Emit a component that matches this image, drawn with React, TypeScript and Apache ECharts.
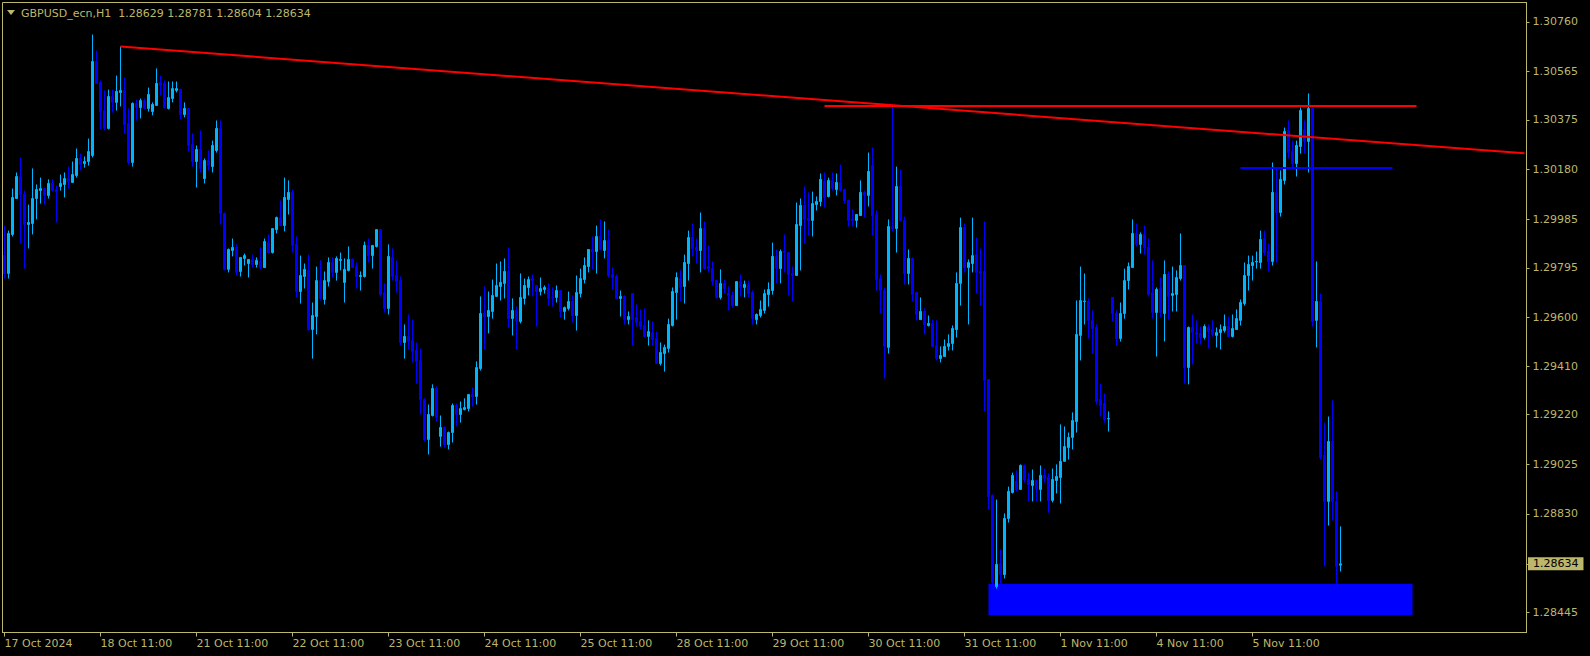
import React, { useEffect, useRef } from "react";
import * as echarts from "echarts";

// ---------- data ----------
const symbolTitle = "GBPUSD_ecn,H1  1.28629 1.28781 1.28604 1.28634";
const tickLabels = [
  "17 Oct 2024", "18 Oct 11:00", "21 Oct 11:00", "22 Oct 11:00", "23 Oct 11:00",
  "24 Oct 11:00", "25 Oct 11:00", "28 Oct 11:00", "29 Oct 11:00", "30 Oct 11:00",
  "31 Oct 11:00", "1 Nov 11:00", "4 Nov 11:00", "5 Nov 11:00",
];
const yTickValues = [
  1.3076, 1.30565, 1.30375, 1.3018, 1.29985, 1.29795, 1.296, 1.2941, 1.2922,
  1.29025, 1.2883, 1.28445,
];
const currentPrice = 1.28634;

const opens = [
  1.29843,1.29773,1.29926,1.30067,1.30153,1.30083,1.29965,1.29969,1.30067,1.30098,
  1.30106,1.30079,1.30126,1.30102,1.30114,1.30122,1.30145,1.30130,1.30157,1.30224,
  1.30204,1.30212,1.30236,1.30604,1.30522,1.30412,1.30342,1.30467,1.30444,1.30483,
  1.30491,1.30361,1.30208,1.30440,1.30424,1.30451,1.30420,1.30408,1.30432,1.30522,
  1.30518,1.30420,1.30459,1.30491,1.30494,1.30396,1.30420,1.30279,1.30212,1.30259,
  1.30145,1.30216,1.30192,1.30255,1.30342,1.30008,1.29789,1.29863,1.29875,1.29781,
  1.29832,1.29812,1.29828,1.29808,1.29820,1.29796,1.29894,1.29855,1.29945,1.29992,
  1.29961,1.30063,1.30091,1.29887,1.29702,1.29761,1.29785,1.29553,1.29604,1.29745,
  1.29671,1.29741,1.29816,1.29777,1.29824,1.29738,1.29785,1.29828,1.29800,1.29761,
  1.29761,1.29883,1.29843,1.29879,1.29945,1.29698,1.29636,1.29836,1.29765,1.29745,
  1.29502,1.29526,1.29510,1.29471,1.29432,1.29279,1.29122,1.29216,1.29322,1.29134,
  1.29169,1.29102,1.29149,1.29255,1.29220,1.29239,1.29243,1.29298,1.29290,1.29400,
  1.29616,1.29604,1.29624,1.29683,1.29722,1.29734,1.29781,1.29596,1.29628,1.29585,
  1.29675,1.29718,1.29753,1.29726,1.29702,1.29710,1.29714,1.29679,1.29679,1.29706,
  1.29624,1.29636,1.29663,1.29608,1.29694,1.29749,1.29800,1.29867,1.29859,1.29918,
  1.29863,1.29902,1.29769,1.29761,1.29675,1.29683,1.29592,1.29694,1.29600,1.29585,
  1.29569,1.29526,1.29541,1.29518,1.29420,1.29459,1.29479,1.29569,1.29698,1.29753,
  1.29722,1.29812,1.29914,1.29875,1.29863,1.29949,1.29800,1.29792,1.29745,1.29679,
  1.29734,1.29694,1.29687,1.29647,1.29741,1.29718,1.29730,1.29698,1.29592,1.29608,
  1.29628,1.29690,1.29706,1.29840,1.29792,1.29859,1.29855,1.29773,1.29765,1.29961,
  1.30040,1.29989,1.29981,1.30043,1.30055,1.30134,1.30075,1.30138,1.30102,1.30130,
  1.30102,1.30059,1.29985,1.29981,1.30000,1.30091,1.30079,1.30196,1.30004,1.29753,
  1.29706,1.29483,1.29957,1.29949,1.30114,1.29981,1.29773,1.29832,1.29698,1.29592,
  1.29624,1.29569,1.29577,1.29490,1.29439,1.29447,1.29487,1.29498,1.29553,1.29734,
  1.29953,1.29796,1.29812,1.29847,1.29781,1.29781,1.29357,1.28902,1.28545,1.28635,
  1.28592,1.28812,1.28914,1.28957,1.28926,1.29020,1.28965,1.28941,1.28961,1.28926,
  1.28981,1.28973,1.28883,1.28961,1.28973,1.29036,1.29090,1.29130,1.29192,1.29530,
  1.29663,1.29663,1.29589,1.29561,1.29279,1.29263,1.29202,1.29679,1.29616,1.29518,
  1.29616,1.29745,1.29796,1.29930,1.29887,1.29926,1.29875,1.29698,1.29620,1.29714,
  1.29616,1.29769,1.29687,1.29690,1.29753,1.29804,1.29404,1.29561,1.29541,1.29538,
  1.29522,1.29561,1.29553,1.29530,1.29541,1.29549,1.29565,1.29526,1.29553,1.29589,
  1.29655,1.29765,1.29804,1.29818,1.29816,1.29910,1.29859,1.29820,1.30091,1.30012,
  1.30138,1.30334,1.30251,1.30204,1.30271,1.30338,1.30291,1.30420,1.29589,1.29663,
  1.29059,1.28879,1.29114,1.28879,1.28629,
];
const closes = [
  1.29773,1.29930,1.30071,1.30153,1.30083,1.29965,1.29973,1.30067,1.30102,1.30106,
  1.30079,1.30126,1.30098,1.30094,1.30126,1.30145,1.30134,1.30161,1.30224,1.30200,
  1.30212,1.30251,1.30604,1.30518,1.30408,1.30342,1.30467,1.30444,1.30487,1.30491,
  1.30357,1.30208,1.30440,1.30424,1.30451,1.30420,1.30475,1.30436,1.30518,1.30510,
  1.30424,1.30463,1.30498,1.30498,1.30396,1.30420,1.30275,1.30212,1.30259,1.30185,
  1.30216,1.30196,1.30275,1.30342,1.30008,1.29789,1.29867,1.29875,1.29777,1.29836,
  1.29843,1.29828,1.29808,1.29824,1.29796,1.29898,1.29855,1.29949,1.29992,1.29961,
  1.30071,1.30091,1.29883,1.29702,1.29765,1.29789,1.29553,1.29608,1.29745,1.29675,
  1.29745,1.29816,1.29777,1.29832,1.29828,1.29789,1.29828,1.29796,1.29761,1.29765,
  1.29883,1.29843,1.29883,1.29945,1.29690,1.29636,1.29840,1.29761,1.29741,1.29502,
  1.29526,1.29506,1.29467,1.29428,1.29279,1.29122,1.29220,1.29322,1.29208,1.29169,
  1.29102,1.29149,1.29255,1.29220,1.29243,1.29247,1.29298,1.29290,1.29404,1.29616,
  1.29604,1.29628,1.29687,1.29726,1.29738,1.29781,1.29596,1.29628,1.29585,1.29679,
  1.29726,1.29749,1.29745,1.29702,1.29714,1.29718,1.29675,1.29677,1.29706,1.29624,
  1.29639,1.29663,1.29608,1.29698,1.29753,1.29804,1.29867,1.29859,1.29918,1.29867,
  1.29902,1.29765,1.29757,1.29675,1.29683,1.29592,1.29604,1.29592,1.29581,1.29565,
  1.29526,1.29545,1.29514,1.29420,1.29463,1.29483,1.29573,1.29702,1.29757,1.29718,
  1.29816,1.29914,1.29871,1.29863,1.29949,1.29792,1.29792,1.29741,1.29679,1.29734,
  1.29714,1.29687,1.29647,1.29741,1.29718,1.29730,1.29694,1.29596,1.29612,1.29632,
  1.29694,1.29710,1.29840,1.29792,1.29859,1.29855,1.29769,1.29765,1.29965,1.30040,
  1.29985,1.29981,1.30047,1.30055,1.30142,1.30071,1.30138,1.30106,1.30130,1.30098,
  1.30059,1.29981,1.29981,1.30004,1.30091,1.30079,1.30173,1.30000,1.29749,1.29706,
  1.29487,1.29957,1.29949,1.30114,1.29981,1.29773,1.29832,1.29690,1.29612,1.29624,
  1.29573,1.29577,1.29487,1.29439,1.29451,1.29487,1.29498,1.29557,1.29734,1.29953,
  1.29796,1.29816,1.29843,1.29777,1.29773,1.29353,1.28898,1.28561,1.28632,1.28592,
  1.28812,1.28918,1.28981,1.28926,1.29020,1.28965,1.28945,1.28961,1.28926,1.28981,
  1.28969,1.28883,1.28965,1.28977,1.29036,1.29094,1.29130,1.29196,1.29534,1.29667,
  1.29665,1.29589,1.29557,1.29271,1.29255,1.29200,1.29204,1.29616,1.29518,1.29616,
  1.29745,1.29800,1.29930,1.29887,1.29926,1.29875,1.29690,1.29620,1.29710,1.29620,
  1.29769,1.29683,1.29694,1.29757,1.29804,1.29404,1.29561,1.29541,1.29534,1.29522,
  1.29565,1.29545,1.29534,1.29541,1.29553,1.29565,1.29526,1.29557,1.29596,1.29659,
  1.29765,1.29808,1.29816,1.29820,1.29906,1.29855,1.29820,1.30091,1.30012,1.30142,
  1.30330,1.30247,1.30204,1.30275,1.30412,1.30291,1.30420,1.29585,1.29663,1.29051,
  1.28879,1.29114,1.28879,1.28624,1.28634,
];
const lows = [
  1.29753,1.29753,1.29918,1.30067,1.29891,1.29792,1.29871,1.29926,1.29985,1.30047,
  1.30043,1.30067,1.30094,1.29973,1.30098,1.30071,1.30106,1.30130,1.30149,1.30177,
  1.30188,1.30196,1.30228,1.30518,1.30338,1.30334,1.30338,1.30404,1.30412,1.30428,
  1.30322,1.30200,1.30192,1.30373,1.30381,1.30420,1.30408,1.30393,1.30432,1.30471,
  1.30420,1.30416,1.30444,1.30483,1.30377,1.30385,1.30251,1.30192,1.30110,1.30169,
  1.30126,1.30177,1.30169,1.30247,1.29965,1.29785,1.29777,1.29840,1.29765,1.29761,
  1.29804,1.29757,1.29796,1.29796,1.29789,1.29796,1.29851,1.29851,1.29930,1.29961,
  1.29938,1.30004,1.29855,1.29679,1.29655,1.29714,1.29549,1.29439,1.29534,1.29667,
  1.29651,1.29722,1.29757,1.29745,1.29785,1.29659,1.29781,1.29796,1.29714,1.29706,
  1.29757,1.29816,1.29792,1.29875,1.29683,1.29620,1.29612,1.29745,1.29698,1.29490,
  1.29439,1.29475,1.29424,1.29341,1.29220,1.29114,1.29063,1.29212,1.29192,1.29094,
  1.29090,1.29083,1.29110,1.29173,1.29188,1.29236,1.29232,1.29251,1.29259,1.29392,
  1.29475,1.29538,1.29596,1.29683,1.29667,1.29675,1.29561,1.29530,1.29475,1.29577,
  1.29651,1.29687,1.29683,1.29565,1.29687,1.29694,1.29647,1.29643,1.29659,1.29600,
  1.29592,1.29628,1.29581,1.29549,1.29679,1.29734,1.29777,1.29789,1.29773,1.29863,
  1.29832,1.29757,1.29710,1.29675,1.29604,1.29573,1.29573,1.29490,1.29565,1.29553,
  1.29522,1.29490,1.29490,1.29420,1.29412,1.29388,1.29463,1.29565,1.29592,1.29663,
  1.29655,1.29745,1.29840,1.29812,1.29777,1.29789,1.29777,1.29726,1.29675,1.29671,
  1.29694,1.29628,1.29639,1.29647,1.29683,1.29679,1.29679,1.29573,1.29573,1.29600,
  1.29616,1.29643,1.29690,1.29734,1.29734,1.29777,1.29687,1.29663,1.29765,1.29785,
  1.29891,1.29922,1.29918,1.30020,1.30036,1.30032,1.30071,1.30098,1.30079,1.30094,
  1.30047,1.29957,1.29957,1.29953,1.30000,1.29992,1.30036,1.29922,1.29706,1.29616,
  1.29361,1.29459,1.29938,1.29855,1.29977,1.29730,1.29730,1.29663,1.29589,1.29592,
  1.29534,1.29565,1.29487,1.29432,1.29424,1.29447,1.29471,1.29471,1.29522,1.29647,
  1.29777,1.29573,1.29777,1.29694,1.29647,1.29232,1.28847,1.28545,1.28537,1.28557,
  1.28577,1.28796,1.28910,1.28918,1.28926,1.28953,1.28879,1.28879,1.28879,1.28879,
  1.28953,1.28835,1.28875,1.28910,1.28871,1.29036,1.29043,1.29083,1.29149,1.29432,
  1.29573,1.29518,1.29459,1.29259,1.29212,1.29188,1.29153,1.29585,1.29490,1.29506,
  1.29596,1.29710,1.29796,1.29879,1.29851,1.29847,1.29683,1.29596,1.29447,1.29600,
  1.29506,1.29592,1.29624,1.29624,1.29745,1.29341,1.29338,1.29416,1.29498,1.29494,
  1.29514,1.29479,1.29526,1.29483,1.29475,1.29541,1.29526,1.29522,1.29553,1.29569,
  1.29647,1.29706,1.29745,1.29792,1.29792,1.29843,1.29781,1.29804,1.29816,1.29996,
  1.30122,1.30224,1.30189,1.30153,1.30243,1.30243,1.30169,1.29565,1.29483,1.29043,
  1.28624,1.28784,1.28804,1.28557,1.28604,
];
const highs = [
  1.29961,1.29941,1.30106,1.30169,1.30228,1.30098,1.30043,1.30185,1.30122,1.30149,
  1.30110,1.30142,1.30142,1.30118,1.30161,1.30169,1.30192,1.30212,1.30263,1.30243,
  1.30232,1.30302,1.30710,1.30647,1.30530,1.30491,1.30494,1.30494,1.30549,1.30663,
  1.30542,1.30420,1.30444,1.30455,1.30459,1.30459,1.30502,1.30444,1.30577,1.30549,
  1.30530,1.30526,1.30526,1.30526,1.30498,1.30444,1.30420,1.30322,1.30275,1.30334,
  1.30224,1.30255,1.30294,1.30373,1.30373,1.30012,1.29871,1.29910,1.29887,1.29836,
  1.29851,1.29828,1.29847,1.29836,1.29875,1.29910,1.29926,1.29949,1.29996,1.30059,
  1.30149,1.30138,1.30102,1.29918,1.29843,1.29812,1.29847,1.29659,1.29800,1.29824,
  1.29781,1.29836,1.29836,1.29840,1.29855,1.29832,1.29879,1.29832,1.29816,1.29781,
  1.29898,1.29910,1.29883,1.29945,1.29945,1.29734,1.29887,1.29871,1.29824,1.29761,
  1.29573,1.29612,1.29592,1.29502,1.29479,1.29283,1.29259,1.29338,1.29330,1.29216,
  1.29173,1.29153,1.29263,1.29263,1.29271,1.29283,1.29298,1.29326,1.29428,1.29683,
  1.29722,1.29702,1.29749,1.29812,1.29820,1.29832,1.29875,1.29675,1.29643,1.29773,
  1.29753,1.29761,1.29769,1.29726,1.29757,1.29726,1.29734,1.29718,1.29726,1.29706,
  1.29643,1.29702,1.29687,1.29765,1.29792,1.29836,1.29867,1.29918,1.29961,1.29985,
  1.29977,1.29945,1.29796,1.29769,1.29706,1.29687,1.29624,1.29694,1.29651,1.29632,
  1.29636,1.29589,1.29585,1.29545,1.29502,1.29494,1.29596,1.29718,1.29777,1.29785,
  1.29847,1.29941,1.29969,1.29910,1.30012,1.29977,1.29883,1.29820,1.29749,1.29789,
  1.29749,1.29722,1.29702,1.29741,1.29769,1.29745,1.29745,1.29706,1.29616,1.29667,
  1.29710,1.29738,1.29894,1.29867,1.29867,1.29926,1.29855,1.29800,1.30051,1.30067,
  1.30114,1.30091,1.30094,1.30075,1.30165,1.30169,1.30149,1.30169,1.30165,1.30200,
  1.30106,1.30063,1.30024,1.30004,1.30138,1.30098,1.30247,1.30267,1.30020,1.29769,
  1.29718,1.29985,1.30428,1.30192,1.30181,1.29996,1.29867,1.29836,1.29702,1.29679,
  1.29636,1.29608,1.29592,1.29589,1.29487,1.29514,1.29534,1.29569,1.29777,1.29992,
  1.29969,1.29828,1.29992,1.29914,1.29871,1.29977,1.29357,1.28906,1.28886,1.28690,
  1.28832,1.28937,1.28992,1.29000,1.29024,1.29024,1.28992,1.29004,1.28961,1.29020,
  1.29008,1.28988,1.29008,1.29024,1.29181,1.29173,1.29149,1.29228,1.29667,1.29800,
  1.29773,1.29675,1.29628,1.29573,1.29341,1.29302,1.29232,1.29679,1.29628,1.29659,
  1.29792,1.29816,1.29985,1.29969,1.29934,1.29961,1.29910,1.29824,1.29718,1.29757,
  1.29824,1.29781,1.29800,1.29785,1.29930,1.29804,1.29565,1.29612,1.29589,1.29565,
  1.29573,1.29573,1.29589,1.29561,1.29573,1.29612,1.29604,1.29612,1.29632,1.29671,
  1.29816,1.29843,1.29843,1.29859,1.29941,1.29941,1.29891,1.30208,1.30185,1.30177,
  1.30345,1.30373,1.30294,1.30294,1.30424,1.30373,1.30479,1.30424,1.29820,1.29694,
  1.29188,1.29212,1.29275,1.28918,1.28781,
];

// drawn objects (bar index, price)
const trendStart = { bar: 29, price: 1.30663 };
const trendEnd = { bar: 380, price: 1.30244 };
const resistance = { from: 205, to: 353, price: 1.30432 };
const blueLevel = { from: 309, to: 347, price: 1.30186 };
const zone = { from: 246, to: 352, top: 1.28556, bottom: 1.28433 };

const BAR_COUNT = 381; // including empty shift area on the right
const MONTHS = ["Jan","Feb","Mar","Apr","May","Jun","Jul","Aug","Sep","Oct","Nov","Dec"];
function buildCategories(n: number): string[] {
  const out: string[] = [];
  let t = Date.UTC(2024, 9, 17, 11);
  while (out.length < n) {
    const d = new Date(t);
    const wd = d.getUTCDay();
    if (wd !== 0 && wd !== 6) {
      const hh = String(d.getUTCHours()).padStart(2, "0");
      out.push(`${d.getUTCDate()} ${MONTHS[d.getUTCMonth()]} ${hh}:00`);
    }
    t += 3600 * 1000;
  }
  return out;
}
const categories = buildCategories(BAR_COUNT);

const KHAKI = "#BDB76B";
const BULL = "#00B4FF";
const BEAR = "#0000FF";
const FONT = "DejaVu Sans";
const Y_MIN = 1.283648;
const Y_MAX = 1.308357;

export default function App() {
  const ref = useRef<HTMLDivElement>(null);
  useEffect(() => {
    if (!ref.current) return;
    const chart = echarts.init(ref.current, undefined, { renderer: "svg" });
    const data = opens.map((o, i) => [o, closes[i], lows[i], highs[i]]);
    const isTick = (index: number) => index % 24 === 0 && index / 24 < tickLabels.length;
    chart.setOption({
      animation: false,
      backgroundColor: "#000000",
      textStyle: { fontFamily: FONT },
      grid: {
        left: 2.5, top: 2.5, width: 1524, height: 630,
        show: true, borderColor: KHAKI, borderWidth: 1, backgroundColor: "#000000",
      },
      graphic: [
        { type: "polygon", shape: { points: [[7, 10], [15, 10], [11, 15]] }, style: { fill: KHAKI } },
        {
          type: "text", x: 21, y: 13,
          style: { text: symbolTitle, fill: KHAKI, fontSize: 11, fontFamily: FONT, verticalAlign: "middle" },
        },
      ],
      xAxis: {
        type: "category",
        data: categories,
        boundaryGap: true,
        axisLine: { show: true, lineStyle: { color: KHAKI } },
        axisTick: { show: true, alignWithLabel: true, length: 4, interval: isTick, lineStyle: { color: KHAKI } },
        axisLabel: {
          interval: isTick,
          formatter: (_v: string, i: number) => tickLabels[i / 24] ?? "",
          color: KHAKI, fontSize: 11, fontFamily: FONT, align: "left", margin: 5,
        },
        splitLine: { show: false },
      },
      yAxis: [
        {
          type: "value",
          position: "right",
          min: Y_MIN,
          max: Y_MAX,
          scale: true,
          axisLine: { show: true, lineStyle: { color: KHAKI } },
          axisTick: { show: true, length: 3, customValues: [...yTickValues, currentPrice], lineStyle: { color: KHAKI } },
          axisLabel: {
            customValues: yTickValues,
            formatter: (v: number) => v.toFixed(5),
            color: KHAKI, fontSize: 11, fontFamily: FONT, margin: 6,
          },
          splitLine: { show: false },
        },
        {
          type: "value",
          position: "right",
          min: Y_MIN,
          max: Y_MAX,
          scale: true,
          axisLine: { show: false },
          axisTick: { show: false },
          axisLabel: {
            customValues: [currentPrice],
            formatter: (v: number) => v.toFixed(5),
            color: "#000000", backgroundColor: KHAKI, padding: [1, 5, 1, 5], lineHeight: 11,
            fontSize: 11, fontFamily: FONT, margin: 1.5,
          },
          splitLine: { show: false },
        },
      ],
      series: [
        {
          type: "candlestick",
          data,
          barWidth: 2,
          itemStyle: {
            color: BULL, color0: BEAR, borderColor: BULL, borderColor0: BEAR,
            borderColorDoji: BULL, borderWidth: 1,
          },
          markArea: {
            silent: true,
            itemStyle: { color: "#0000FF", opacity: 1 },
            data: [[
              { coord: [categories[zone.from], zone.top] },
              { coord: [categories[zone.to], zone.bottom] },
            ]],
          },
          markLine: {
            silent: true,
            symbol: ["none", "none"],
            label: { show: false },
            data: [
              [
                { coord: [categories[trendStart.bar], trendStart.price], lineStyle: { color: "#FF0000", width: 2, type: "solid" } },
                { coord: [categories[trendEnd.bar], trendEnd.price] },
              ],
              [
                { coord: [categories[resistance.from], resistance.price], lineStyle: { color: "#FF0000", width: 2, type: "solid" } },
                { coord: [categories[resistance.to], resistance.price] },
              ],
              [
                { coord: [categories[blueLevel.from], blueLevel.price], lineStyle: { color: "#0000FF", width: 2, type: "solid" } },
                { coord: [categories[blueLevel.to], blueLevel.price] },
              ],
            ],
          },
        },
      ],
    });
    return () => chart.dispose();
  }, []);
  return (
    <div
      ref={ref}
      style={{ position: "fixed", left: 0, top: 0, width: 1590, height: 656, background: "#000" }}
    />
  );
}
